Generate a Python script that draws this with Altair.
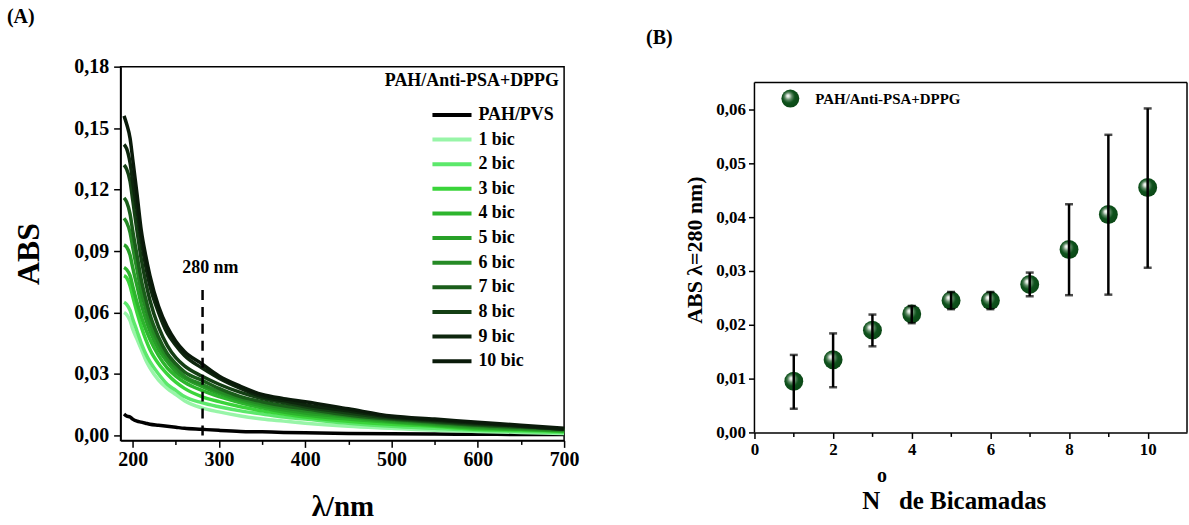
import altair as alt
import pandas as pd

# ---------------- Panel A data: UV-Vis spectra ----------------
wavelength = [190, 193, 197, 200, 205, 210, 215, 220, 230, 240, 250, 260, 280,
              300, 325, 350, 375, 400, 450, 500, 550, 600, 650, 700]

series_names = ["PAH/PVS", "1 bic", "2 bic", "3 bic", "4 bic", "5 bic",
                "6 bic", "7 bic", "8 bic", "9 bic", "10 bic"]
series_colors = ["#000000", "#98f5a8", "#5ce86b", "#3ad43a", "#2db52d", "#27a027",
                 "#258a25", "#1a5e1a", "#143f14", "#0d260d", "#0a1a0a"]

abs_pvs = [0.0105, 0.0095, 0.0090, 0.0080, 0.0070, 0.0065, 0.0060, 0.0055, 0.0050, 0.0045, 0.0040, 0.0035, 0.0030,
           0.0025, 0.0020, 0.0018, 0.0015, 0.0013, 0.0010, 0.0008, 0.0007, 0.0006, 0.0005, 0.0005]
abs_1 = [0.060, 0.059, 0.056, 0.052, 0.047, 0.042, 0.037, 0.033, 0.027, 0.023, 0.020, 0.017, 0.0135,
         0.0115, 0.0095, 0.0080, 0.0070, 0.0060, 0.0045, 0.0035, 0.0025, 0.0020, 0.0015, 0.0010]
abs_2 = [0.065, 0.064, 0.061, 0.057, 0.051, 0.045, 0.040, 0.036, 0.030, 0.025, 0.022, 0.019, 0.016,
         0.014, 0.012, 0.0105, 0.009, 0.008, 0.006, 0.0045, 0.0035, 0.0025, 0.002, 0.0015]
abs_3 = [0.078, 0.077, 0.073, 0.068, 0.060, 0.053, 0.047, 0.042, 0.035, 0.030, 0.026, 0.023, 0.019,
         0.0165, 0.014, 0.012, 0.0105, 0.009, 0.007, 0.0055, 0.0045, 0.003, 0.0025, 0.002]
abs_4 = [0.082, 0.081, 0.078, 0.073, 0.065, 0.058, 0.052, 0.047, 0.039, 0.033, 0.029, 0.026, 0.022,
         0.019, 0.016, 0.0135, 0.0115, 0.010, 0.008, 0.0065, 0.005, 0.0035, 0.003, 0.002]
abs_5 = [0.093, 0.092, 0.088, 0.082, 0.073, 0.064, 0.057, 0.051, 0.042, 0.036, 0.031, 0.028, 0.024,
         0.0205, 0.017, 0.0145, 0.0125, 0.011, 0.009, 0.007, 0.0055, 0.004, 0.003, 0.0025]
abs_6 = [0.106, 0.104, 0.099, 0.092, 0.081, 0.070, 0.062, 0.055, 0.045, 0.038, 0.033, 0.029, 0.025,
         0.0215, 0.018, 0.0155, 0.0135, 0.012, 0.0095, 0.0075, 0.006, 0.0045, 0.0035, 0.0025]
abs_7 = [0.116, 0.114, 0.108, 0.100, 0.088, 0.076, 0.067, 0.059, 0.048, 0.040, 0.035, 0.031, 0.027,
         0.023, 0.019, 0.0165, 0.0145, 0.013, 0.010, 0.008, 0.0065, 0.005, 0.004, 0.003]
abs_8 = [0.132, 0.130, 0.124, 0.115, 0.100, 0.086, 0.075, 0.066, 0.053, 0.044, 0.038, 0.034, 0.029,
         0.025, 0.021, 0.018, 0.016, 0.014, 0.011, 0.0085, 0.007, 0.0055, 0.0045, 0.003]
abs_9 = [0.142, 0.140, 0.133, 0.124, 0.110, 0.095, 0.083, 0.073, 0.060, 0.050, 0.044, 0.039, 0.033,
         0.028, 0.023, 0.019, 0.017, 0.015, 0.012, 0.009, 0.0075, 0.006, 0.0045, 0.003]
abs_10 = [0.156, 0.152, 0.145, 0.135, 0.118, 0.100, 0.088, 0.078, 0.063, 0.053, 0.046, 0.041, 0.035,
          0.029, 0.024, 0.020, 0.018, 0.0165, 0.013, 0.0095, 0.008, 0.0065, 0.005, 0.0035]

all_abs = [abs_pvs, abs_1, abs_2, abs_3, abs_4, abs_5, abs_6, abs_7, abs_8, abs_9, abs_10]

rows = []
for order, (name, vals) in enumerate(zip(series_names, all_abs)):
    for wl, v in zip(wavelength, vals):
        rows.append({"series": name, "wl": wl, "abs": v, "order": order})
spectra = pd.DataFrame(rows)

marker_wl = [281]
marker_top = [0.0725]
marker_label = ["280 nm"]
legend_title_a = "PAH/Anti-PSA+DPPG"

# ---------------- Panel B data ----------------
bilayers = [1, 2, 3, 4, 5, 6, 7, 8, 9, 10]
abs280 = [0.0095, 0.0135, 0.0190, 0.0220, 0.0245, 0.0245, 0.0275, 0.0340, 0.0405, 0.0455]
err_low = [0.0044, 0.0084, 0.0160, 0.0203, 0.0229, 0.0229, 0.0253, 0.0255, 0.0256, 0.0306]
err_high = [0.0144, 0.0184, 0.0219, 0.0235, 0.0261, 0.0261, 0.0297, 0.0424, 0.0553, 0.0602]
series_b = "PAH/Anti-PSA+DPPG"
b_ymax = 0.065   # top of the frame of panel B
b_xmax = 11      # right edge of the frame of panel B

bdf = pd.DataFrame({"n": bilayers, "abs": abs280, "lo": err_low, "hi": err_high,
                    "s": [series_b] * len(bilayers)})

FONT = "Liberation Serif"

def comma_label(fmt):
    return f"replace(format(datum.value, '{fmt}'), '.', ',')"

# ---------------- Panel A ----------------
xa = alt.X("wl:Q", scale=alt.Scale(domain=[186, 700], nice=False, zero=False),
           axis=alt.Axis(values=[200, 250, 300, 350, 400, 450, 500, 550, 600, 650, 700],
                         labelExpr="datum.value % 100 == 0 ? datum.label : ''",
                         tickSize={"condition": {"test": "datum.value % 100 == 0", "value": 7}, "value": 4},
                         labelFontSize=20, labelPadding=2, labelFlush=False, grid=False,
                         title="λ/nm", titleFontSize=29, titlePadding=23))
ya = alt.Y("abs:Q", scale=alt.Scale(domain=[-0.0024, 0.18], nice=False, zero=False),
           axis=alt.Axis(values=[0, 0.015, 0.03, 0.045, 0.06, 0.075, 0.09, 0.105, 0.12, 0.135, 0.15, 0.165, 0.18],
                         labelExpr="round(datum.value*1000) % 30 == 0 ? " + comma_label('.2f') + " : ''",
                         tickSize={"condition": {"test": "round(datum.value*1000) % 30 == 0", "value": 7}, "value": 4},
                         labelFontSize=20, labelPadding=5, labelFlush=False, grid=False,
                         title="ABS", titleFontSize=32, titlePadding=28))

lines = alt.Chart(spectra).mark_line(strokeWidth=3.5, interpolate="monotone").encode(
    x=xa, y=ya,
    color=alt.Color("series:N", sort=series_names,
                    scale=alt.Scale(domain=series_names, range=series_colors),
                    legend=alt.Legend(title=None, orient="none", legendX=318, legendY=34,
                                      symbolType="M-1.6,0H1.6", symbolSize=600, symbolStrokeWidth=4,
                                      labelFont=FONT, labelFontWeight="bold", labelFontSize=18,
                                      labelColor="black", labelOffset=12, rowPadding=0.7, padding=0)),
    order=alt.Order("order:Q"),
)

marker_df = pd.DataFrame({"wl": marker_wl, "y0": [0.0], "y1": marker_top})
marker = alt.Chart(marker_df).mark_rule(strokeDash=[10, 7], strokeWidth=2.5, color="black").encode(
    x="wl:Q", y="y0:Q", y2="y1:Q")

label_df = pd.DataFrame({"wl": [290], "abs": [0.0817], "t": marker_label})
marker_text = alt.Chart(label_df).mark_text(font=FONT, fontWeight="bold", fontSize=18, color="black").encode(
    x="wl:Q", y="abs:Q", text="t:N")

ltitle_df = pd.DataFrame({"wl": [694], "abs": [0.1731], "t": [legend_title_a]})
ltitle = alt.Chart(ltitle_df).mark_text(font=FONT, fontWeight="bold", fontSize=18, color="black",
                                        align="right", baseline="middle").encode(
    x="wl:Q", y="abs:Q", text="t:N")

panel_a = alt.layer(lines, marker, marker_text, ltitle).properties(
    width=445, height=375,
    title=alt.TitleParams("(A)", anchor="start", frame="bounds", font=FONT, fontWeight="bold",
                          fontSize=20, color="black", offset=30, dx=-6))

# ---------------- Panel B ----------------
B_H = 367
b_ydom = b_ymax * B_H / 351.0
xb = alt.X("n:Q", scale=alt.Scale(domain=[0, b_xmax], nice=False, zero=False),
           axis=alt.Axis(values=[0, 1, 2, 3, 4, 5, 6, 7, 8, 9, 10],
                         labelExpr="datum.value % 2 == 0 ? datum.label : ''",
                         tickSize={"condition": {"test": "datum.value % 2 == 0", "value": 6}, "value": 4},
                         labelFontSize=17, labelPadding=3, labelFlush=False, grid=False,
                         title="N\u00a0\u00a0\u00a0de Bicamadas", titleFontSize=25, titlePadding=31,
                         titleX=200, titleAlign="center"))
yb = alt.Y("abs:Q", scale=alt.Scale(domain=[0, b_ydom], nice=False, zero=False),
           axis=alt.Axis(values=[0, 0.005, 0.01, 0.015, 0.02, 0.025, 0.03, 0.035, 0.04, 0.045, 0.05, 0.055, 0.06],
                         labelExpr="round(datum.value*1000) % 10 == 0 ? " + comma_label('.2f') + " : ''",
                         tickSize={"condition": {"test": "round(datum.value*1000) % 10 == 0", "value": 6}, "value": 4},
                         labelFontSize=17, labelPadding=3, labelFlush=False, grid=False, domain=False,
                         title="ABS λ=280 nm)", titleFontSize=22, titlePadding=9))

sphere = {"gradient": "radial", "x1": 0.36, "y1": 0.34, "r1": 0.0,
          "x2": 0.45, "y2": 0.45, "r2": 0.62,
          "stops": [{"offset": 0.0, "color": "#ffffff"},
                    {"offset": 0.12, "color": "#dfe8df"},
                    {"offset": 0.32, "color": "#5f8a66"},
                    {"offset": 0.55, "color": "#0e521c"},
                    {"offset": 1.0, "color": "#0a4514"}]}

frame_df = pd.DataFrame({"x": [0, b_xmax, 0], "x2": [b_xmax, b_xmax, 0],
                         "y": [b_ymax, 0, 0], "y2": [b_ymax, b_ymax, b_ymax]})
frame_b = alt.Chart(frame_df).mark_rule(color="black", strokeWidth=1.5).encode(
    x=alt.X("x:Q", scale=alt.Scale(domain=[0, b_xmax], nice=False, zero=False)), x2="x2:Q",
    y=alt.Y("y:Q", scale=alt.Scale(domain=[0, b_ydom], nice=False, zero=False)), y2="y2:Q")

base_b = alt.Chart(bdf)
err_rule = base_b.mark_rule(color="black", strokeWidth=2.5).encode(x=xb, y=alt.Y("lo:Q"), y2="hi:Q")
points = base_b.mark_point(filled=True, size=360, opacity=1, fill=sphere, strokeOpacity=0).encode(
    x=xb, y=yb,
    shape=alt.Shape("s:N", scale=alt.Scale(range=["circle"]),
                    legend=alt.Legend(title=None, orient="none", legendX=27, legendY=23,
                                      symbolSize=324, symbolFillColor="#0b4a16", symbolStrokeWidth=0,
                                      labelFont=FONT, labelFontWeight="bold", labelFontSize=15,
                                      labelColor="black", labelOffset=16, padding=0)))
cap_lo = base_b.mark_tick(orient="horizontal", size=8, thickness=2.5, color="black").encode(x=xb, y="lo:Q")
cap_hi = base_b.mark_tick(orient="horizontal", size=8, thickness=2.5, color="black").encode(x=xb, y="hi:Q")

sup_df = pd.DataFrame({"t": ["o"]})
sup = alt.Chart(sup_df).mark_text(font=FONT, fontWeight="bold", fontSize=20, color="black").encode(
    x=alt.value(128), y=alt.value(411), text="t:N")

panel_b = alt.layer(points, err_rule, cap_lo, cap_hi, frame_b, sup).properties(
    width=434, height=B_H, view=alt.ViewBackground(stroke="transparent"),
    title=alt.TitleParams("(B)", anchor="start", frame="bounds", font=FONT, fontWeight="bold",
                          fontSize=20, color="black", offset=19, dx=-38))

chart = alt.hconcat(panel_a, panel_b, spacing=65).resolve_legend(
    color="independent", shape="independent"
).properties(
    padding={"left": 6, "top": 5, "right": 0, "bottom": 0}
).configure(font=FONT, background="white").configure_view(
    stroke="black", strokeWidth=1.5
).configure_axis(
    domainColor="black", domainWidth=1.5, tickColor="black", tickWidth=1.5,
    labelFont=FONT, labelFontWeight="bold", labelColor="black",
    titleFont=FONT, titleFontWeight="bold", titleColor="black", grid=False
)

chart.save("out.html", embed_options={"renderer": "svg", "actions": False})
